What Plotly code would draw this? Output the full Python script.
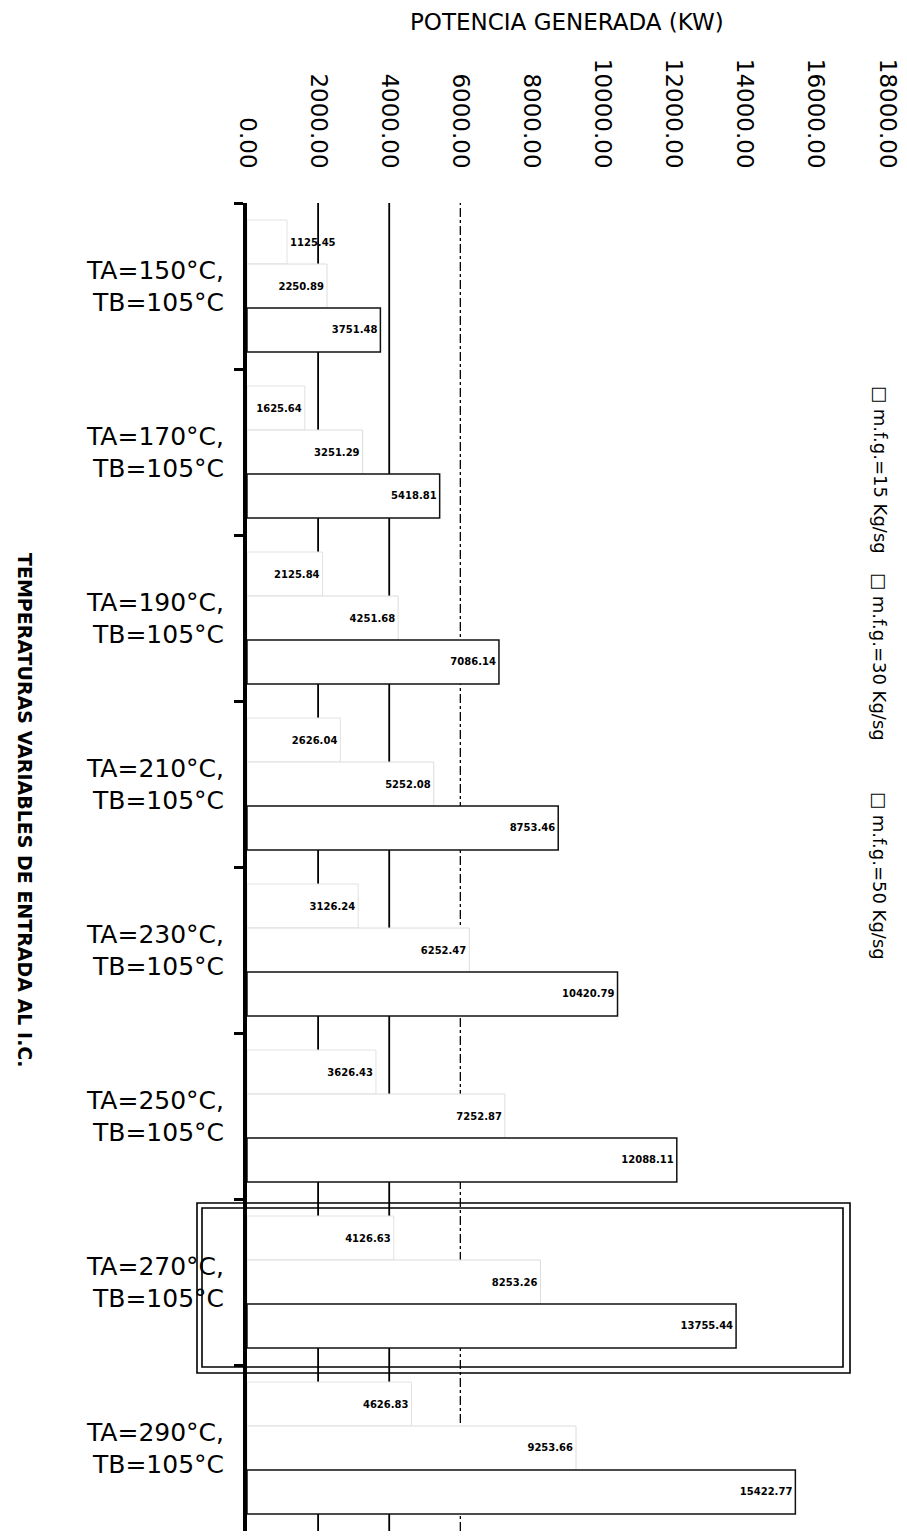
import plotly.graph_objects as go

categories = [
    "TA=150°C,<br>TB=105°C",
    "TA=170°C,<br>TB=105°C",
    "TA=190°C,<br>TB=105°C",
    "TA=210°C,<br>TB=105°C",
    "TA=230°C,<br>TB=105°C",
    "TA=250°C,<br>TB=105°C",
    "TA=270°C,<br>TB=105°C",
    "TA=290°C,<br>TB=105°C",
]
serie_15 = [1125.45, 1625.64, 2125.84, 2626.04, 3126.24, 3626.43, 4126.63, 4626.83]
serie_30 = [2250.89, 3251.29, 4251.68, 5252.08, 6252.47, 7252.87, 8253.26, 9253.66]
serie_50 = [3751.48, 5418.81, 7086.14, 8753.46, 10420.79, 12088.11, 13755.44, 15422.77]
series_names = ["m.f.g.=15 Kg/sg", "m.f.g.=30 Kg/sg", "m.f.g.=50 Kg/sg"]
x_tick_values = [0, 2000, 4000, 6000, 8000, 10000, 12000, 14000, 16000, 18000]
grid_values = [2000, 4000, 6000]
highlight_index = 6

# page has an 8px body margin; figure sized to fill the remaining window
OFF = 8
W, H = 907 - OFF, 1539 - OFF
L, T = 247 - OFF, 203 - OFF
R = W - (887 - OFF)
B = H - (1531 - OFF)
pw, ph = W - L - R, H - T - B

def px_x(p):
    return (p - OFF - L) / pw

def px_y(p):
    return 1 - (p - OFF - T) / ph

fig = go.Figure()
outline = ["#e2e2e2", "#dcdcdc", "#111111"]
widths = [1, 1, 1.5]
for name, vals, oc, lw in zip(series_names, [serie_15, serie_30, serie_50], outline, widths):
    fig.add_trace(go.Bar(
        y=categories, x=vals, orientation="h", name=name,
        marker=dict(color="white", line=dict(color=oc, width=lw)),
        text=[f"{v:.2f}" for v in vals],
        textposition="auto", insidetextanchor="end", textangle=0,
        constraintext="none",
        textfont=dict(family="DejaVu Sans", size=10, color="black", weight="bold"),
        cliponaxis=False,
    ))

# reference grid lines (visible ones)
for gv in grid_values:
    fig.add_shape(type="line", xref="x", yref="paper", x0=gv, x1=gv, y0=0, y1=1,
                  layer="below",
                  line=dict(color="black", width=1.8 if gv < 6000 else 1.3,
                            dash="solid" if gv < 6000 else "dashdot"))

# highlight double box around one category
for (xl, xr, yt, yb) in [(197, 850, -0.476, 0.548), (202, 843, -0.446, 0.512)]:
    fig.add_shape(type="rect", xref="paper", yref="y",
                  x0=px_x(xl), x1=px_x(xr),
                  y0=highlight_index + yt, y1=highlight_index + yb,
                  line=dict(color="black", width=1.6), fillcolor="rgba(0,0,0,0)",
                  layer="above")

fig.update_layout(
    width=W, height=H,
    margin=dict(l=L, r=R, t=T, b=B, autoexpand=False),
    paper_bgcolor="white", plot_bgcolor="white",
    barmode="group", bargap=0.205, bargroupgap=0,
    showlegend=False,
    font=dict(family="DejaVu Sans", color="black"),
)
fig.update_xaxes(
    side="top", range=[0, 18000], tickvals=x_tick_values, tickformat=".2f",
    tickangle=90, showgrid=False, zeroline=False, showline=False, ticks="",
    tickfont=dict(family="DejaVu Sans", size=23, color="black"),
    ticklabelstandoff=30, automargin=False,
)
fig.update_yaxes(
    autorange="reversed", showgrid=False, zeroline=False,
    showline=True, linecolor="black", linewidth=4,
    ticks="outside", tickson="boundaries", ticklen=9, tickwidth=3, tickcolor="black",
    tickfont=dict(family="DejaVu Sans", size=25, color="black"),
    ticklabelstandoff=14, automargin=False,
)

annotations = [
    dict(text="POTENCIA GENERADA (KW)", xref="paper", yref="paper",
         x=0.5, y=px_y(22), xanchor="center", yanchor="middle", showarrow=False,
         font=dict(family="DejaVu Sans", size=23, color="black")),
    dict(text="<b>TEMPERATURAS VARIABLES DE ENTRADA AL I.C.</b>", xref="paper", yref="paper",
         x=px_x(25), y=px_y(810), xanchor="center", yanchor="middle", showarrow=False,
         textangle=90, font=dict(family="DejaVu Sans", size=19, color="black")),
]
for name, cy in zip(series_names, [470, 657, 876]):
    annotations.append(dict(text="□ " + name, xref="paper", yref="paper",
                            x=px_x(880), y=px_y(cy), xanchor="center", yanchor="middle",
                            showarrow=False, textangle=90,
                            font=dict(family="DejaVu Sans", size=18, color="black")))
fig.update_layout(annotations=annotations)

fig.write_html("out.html")
